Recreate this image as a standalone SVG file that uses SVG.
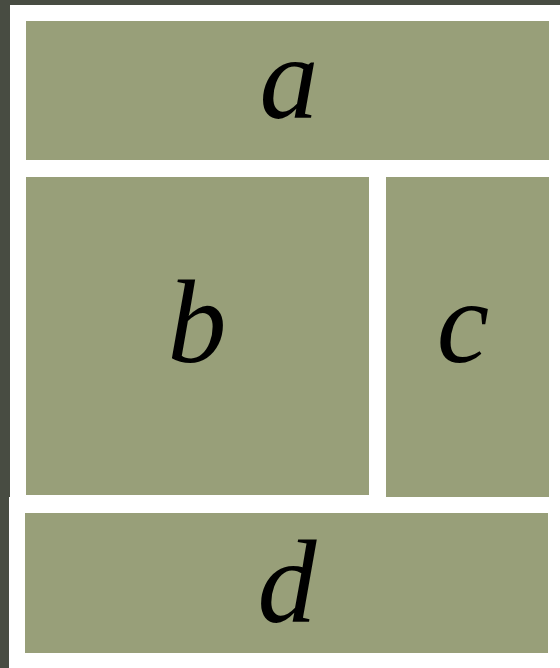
<svg xmlns="http://www.w3.org/2000/svg" width="560" height="668" viewBox="0 0 560 668">
<style>
.box{fill:#989f79}
.lbl{font-family:"Liberation Serif",serif;font-style:italic;font-size:118px;fill:#000;text-anchor:middle}
</style>
<rect x="0" y="0" width="560" height="668" fill="#484c42"/>
<rect x="10" y="5" width="550" height="493" fill="#ffffff"/>
<rect x="9" y="497" width="551" height="171" fill="#ffffff"/>
<g id="a"><rect class="box" x="26" y="21" width="523" height="139"/><text class="lbl" x="289" y="118">a</text></g>
<g id="b"><rect class="box" x="26" y="177" width="343" height="318"/><text class="lbl" x="197" y="362">b</text></g>
<g id="c"><rect class="box" x="386" y="177" width="163" height="320"/><text class="lbl" x="463" y="362">c</text></g>
<g id="d"><rect class="box" x="25" y="513" width="523" height="140"/><text class="lbl" x="287" y="622">d</text></g>
<g id="connectors"></g>
</svg>
